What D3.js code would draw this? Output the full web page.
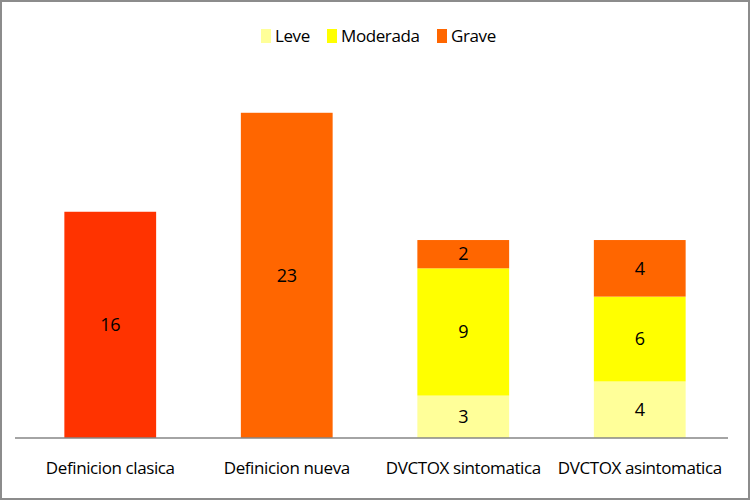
<!DOCTYPE html>
<html>
<head>
<meta charset="utf-8">
<script src="https://cdn.jsdelivr.net/npm/d3@7"></script>
<style>
  body { margin: 0; background: #fff; }
  text { font-family: "Open Sans", sans-serif; letter-spacing: -0.4px; }
</style>
</head>
<body>
<svg id="chart" width="750" height="500"></svg>
<script>
const categories = ["Definicion clasica", "Definicion nueva", "DVCTOX sintomatica", "DVCTOX asintomatica"];
const totals = [16, 23, null, null];
const leve = [0, 0, 3, 4];
const moderada = [0, 0, 9, 6];
const grave = [0, 0, 2, 4];
const seriesNames = ["Leve", "Moderada", "Grave"];
const seriesColors = ["#ffff99", "#ffff00", "#ff6600"];
const singleColors = ["#ff3300", "#ff6600"];

const svg = d3.select("#chart");
const W = 750, H = 500;

// frame
svg.append("rect")
    .attr("x", 1).attr("y", 1)
    .attr("width", W - 2).attr("height", H - 2)
    .style("fill", "#fff")
    .style("stroke", "#8c8c8c")
    .style("stroke-width", 2);

const x = d3.scaleBand()
    .domain(categories)
    .range([22, 728])
    .paddingInner(0.48)
    .paddingOuter(0.24);

const y = d3.scaleLinear()
    .domain([0, 25])
    .range([438, 84.5]);

// single bars
categories.forEach((c, i) => {
    if (totals[i] == null) return;
    svg.append("rect")
        .attr("x", x(c))
        .attr("y", y(totals[i]))
        .attr("width", x.bandwidth())
        .attr("height", y(0) - y(totals[i]))
        .style("fill", singleColors[i]);
    svg.append("text")
        .attr("x", x(c) + x.bandwidth() / 2)
        .attr("y", (y(totals[i]) + y(0)) / 2)
        .attr("dy", "0.35em")
        .attr("text-anchor", "middle")
        .style("font-size", "18px")
        .text(totals[i]);
});

// stacked bars
const rows = categories.map((c, i) => ({ cat: c, Leve: leve[i], Moderada: moderada[i], Grave: grave[i] }))
    .filter((d, i) => totals[i] == null);
const stack = d3.stack().keys(seriesNames)(rows);

stack.forEach((layer, k) => {
    layer.forEach(seg => {
        const v = seg[1] - seg[0];
        if (!v) return;
        svg.append("rect")
            .attr("x", x(seg.data.cat))
            .attr("y", y(seg[1]))
            .attr("width", x.bandwidth())
            .attr("height", y(seg[0]) - y(seg[1]))
            .style("fill", seriesColors[k]);
        svg.append("text")
            .attr("x", x(seg.data.cat) + x.bandwidth() / 2)
            .attr("y", (y(seg[0]) + y(seg[1])) / 2)
            .attr("dy", "0.35em")
            .attr("text-anchor", "middle")
            .style("font-size", "18px")
            .text(v);
    });
});

// baseline
svg.append("line")
    .attr("x1", 15).attr("x2", 728)
    .attr("y1", y(0)).attr("y2", y(0))
    .style("stroke", "#868686")
    .style("stroke-width", 1.5);

// category labels
const xAxis = svg.append("g")
    .attr("transform", `translate(0,${y(0)})`)
    .call(d3.axisBottom(x).tickSize(0).tickPadding(24));
xAxis.select(".domain").remove();
xAxis.selectAll("text")
    .style("font-family", "\"Open Sans\", sans-serif")
    .style("font-size", "17px")
    .style("fill", "#000");

// legend
const legendX = [261, 327, 437];
const legend = svg.append("g");
seriesNames.forEach((s, i) => {
    legend.append("rect")
        .attr("x", legendX[i])
        .attr("y", 29)
        .attr("width", 10)
        .attr("height", 14)
        .style("fill", seriesColors[i]);
    legend.append("text")
        .attr("x", legendX[i] + 14)
        .attr("y", 36)
        .attr("dy", "0.35em")
        .style("font-size", "17px")
        .text(s);
});
</script>
</body>
</html>
